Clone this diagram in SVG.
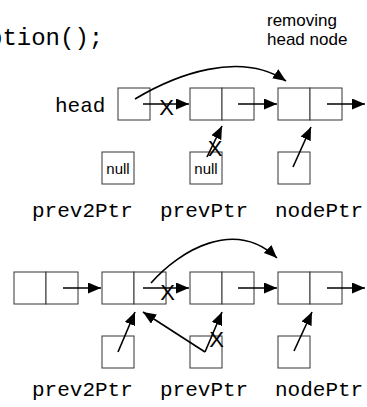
<svg xmlns="http://www.w3.org/2000/svg" width="367" height="407" viewBox="0 0 367 407">
<style>
.box{fill:#fff;stroke:#333;stroke-width:1}
.ln{fill:none;stroke:#000;stroke-width:1.6;marker-end:url(#ah)}
.mono{font-family:"Liberation Mono","Courier New",monospace;fill:#000}
.sans{font-family:"Liberation Sans",Arial,sans-serif;fill:#000}
.x{font-family:"Liberation Sans",Arial,sans-serif;font-size:22px;text-anchor:middle;fill:#000}
</style>
<defs>
<marker id="ah" markerUnits="userSpaceOnUse" markerWidth="13" markerHeight="11" refX="13" refY="5.5" orient="auto">
<path d="M0,0 L13,5.5 L0,11 z" fill="#000"/>
</marker>
</defs>
<rect width="367" height="407" fill="#fff"/>
<text class="mono" x="-12" y="45" font-size="24">ption();</text>
<text class="sans" x="267" y="26" font-size="17">removing</text>
<text class="sans" x="267" y="45" font-size="17">head node</text>

<g id="head"><text class="mono" x="55" y="112" font-size="21">head</text><rect class="box" x="118" y="88" width="32" height="32"/></g>
<g id="t2"><rect class="box" x="190" y="88" width="32" height="32"/><rect class="box" x="222" y="88" width="32" height="32"/></g>
<g id="t3"><rect class="box" x="278" y="88" width="32" height="32"/><rect class="box" x="310" y="88" width="32" height="32"/></g>
<g id="tp2"><rect class="box" x="102" y="152" width="32" height="32"/><text class="sans" x="118" y="174" font-size="15" text-anchor="middle">null</text><text class="mono" x="32" y="217" font-size="21">prev2Ptr</text></g>
<g id="tp1"><rect class="box" x="190" y="152" width="32" height="32"/><text class="sans" x="206" y="174" font-size="15" text-anchor="middle">null</text><text class="mono" x="160" y="217" font-size="21">prevPtr</text></g>
<g id="tpn"><rect class="box" x="278" y="152" width="32" height="32"/><text class="mono" x="275" y="217" font-size="21">nodePtr</text></g>

<g id="bA"><rect class="box" x="14" y="272" width="32" height="32"/><rect class="box" x="46" y="272" width="32" height="32"/></g>
<g id="bB"><rect class="box" x="102" y="272" width="32" height="32"/><rect class="box" x="134" y="272" width="32" height="32"/></g>
<g id="bC"><rect class="box" x="190" y="272" width="32" height="32"/><rect class="box" x="222" y="272" width="32" height="32"/></g>
<g id="bD"><rect class="box" x="278" y="272" width="32" height="32"/><rect class="box" x="310" y="272" width="32" height="32"/></g>
<g id="bp2"><rect class="box" x="102" y="336" width="32" height="32"/><text class="mono" x="32" y="396" font-size="21">prev2Ptr</text></g>
<g id="bp1"><rect class="box" x="190" y="336" width="32" height="32"/><text class="mono" x="160" y="396" font-size="21">prevPtr</text></g>
<g id="bpn"><rect class="box" x="278" y="336" width="32" height="32"/><text class="mono" x="275" y="396" font-size="21">nodePtr</text></g>

<g id="connectors">
<path class="ln" d="M143,104 H189"/>
<path class="ln" d="M238,104 H277"/>
<path class="ln" d="M327,104 H365"/>
<path class="ln" d="M135,99 C175,75 240,50 286,81"/>
<path class="ln" d="M207,157 L222,126"/>
<path class="ln" d="M293,167 L311,127"/>
<path class="ln" d="M63,288 H101"/>
<path class="ln" d="M143,288 H189"/>
<path class="ln" d="M238,288 H277"/>
<path class="ln" d="M327,288 H365"/>
<path class="ln" d="M151,283 C180,250 235,218 277,258"/>
<path class="ln" d="M118,352 L135,312"/>
<path class="ln" d="M205,352 L143,312"/>
<path class="ln" d="M205,352 L222,312"/>
<path class="ln" d="M294,351 L312,312"/>
<text class="x" x="166.5" y="115">X</text>
<text class="x" x="215" y="156">X</text>
<text class="x" x="167.5" y="300">X</text>
<text class="x" x="216.5" y="347">X</text>
</g>
</svg>
